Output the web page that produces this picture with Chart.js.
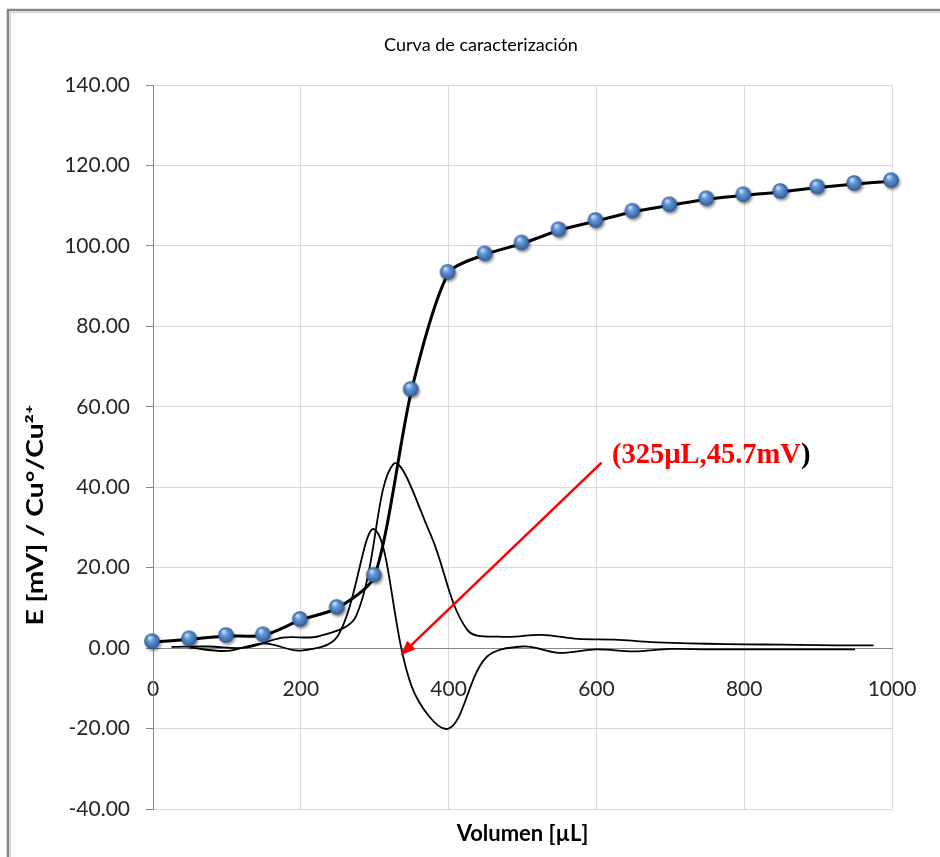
<!DOCTYPE html>
<html><head><meta charset="utf-8">
<script src="https://cdn.jsdelivr.net/npm/chart.js@4.4.0/dist/chart.umd.min.js"></script>
<style>html,body{margin:0;padding:0;background:#fff;}#wrap{width:940px;height:857px;position:relative;}</style>
</head><body><div id="wrap"><canvas id="c" width="940" height="857"></canvas></div>
<script>
// ---- data ----
const volumes = [0,50,100,150,200,250,300,350,400,450,500,550,600,650,700,750,800,850,900,950,1000];
const potential = [1.5,2.2,3.0,3.2,7.0,10.0,18.0,64.2,93.3,97.9,100.6,103.9,106.2,108.5,110.1,111.6,112.6,113.4,114.5,115.4,116.1];
const firstDerivX = [25,75,125,175,225,275,325,375,425,475,525,575,625,675,725,775,825,875,925,975];
const firstDeriv = [0.3,0.4,0.1,2.6,3.0,8.0,45.7,28.5,4.6,2.8,3.3,2.3,2.1,1.5,1.2,1.0,0.9,0.8,0.7,0.7];
const secondDerivX = [50,100,150,200,250,300,350,400,450,500,550,600,650,700,750,800,850,900,950];
const secondDeriv = [0.1,-0.7,1.2,-0.6,3.0,29.5,-9.5,-20.0,-2.5,0.4,-1.2,-0.3,-0.8,-0.2,-0.3,-0.3,-0.3,-0.3,-0.3];
const yTicks = [-40,-20,0,20,40,60,80,100,120,140];
const xTicks = [0,200,400,600,800,1000];
const chartTitle = 'Curva de caracterización';
const xTitle = 'Volumen [µL]';
const yTitle = 'E [mV] / Cu°/Cu²⁺';
const noteMain = '(325µL,45.7mV';
const noteEnd = ')';

function pts(xs, ys){ return xs.map((x,i)=>({x:x,y:ys[i]})); }

function sphere(r){
  const s = Math.ceil(r*2+8);
  const c = document.createElement('canvas'); c.width=s; c.height=s;
  const g = c.getContext('2d');
  const cx = s/2-1, cy = s/2-1;
  g.shadowColor='rgba(0,0,0,0.45)'; g.shadowBlur=3; g.shadowOffsetX=1.5; g.shadowOffsetY=2;
  const grad = g.createRadialGradient(cx-r*0.3, cy-r*0.45, r*0.1, cx, cy, r);
  grad.addColorStop(0,'#C4DAF5');
  grad.addColorStop(0.35,'#6396D6');
  grad.addColorStop(0.8,'#3E70B0');
  grad.addColorStop(1,'#2D5288');
  g.fillStyle=grad; g.beginPath(); g.arc(cx,cy,r,0,Math.PI*2); g.fill();
  return c;
}
const ball = sphere(7.8);

const decor = {
  id:'decor',
  beforeDraw(chart){
    const ctx = chart.ctx;
    ctx.save();
    ctx.fillStyle='#fff'; ctx.fillRect(0,0,chart.width,chart.height);
    ctx.strokeStyle='#858585'; ctx.lineWidth=2.5;
    ctx.beginPath(); ctx.moveTo(8,chart.height+5); ctx.lineTo(8,10); ctx.lineTo(chart.width+5,10); ctx.stroke();
    ctx.strokeStyle='#cfcfcf'; ctx.lineWidth=1;
    ctx.beginPath(); ctx.moveTo(10.5,chart.height+5); ctx.lineTo(10.5,12.5); ctx.lineTo(chart.width+5,12.5); ctx.stroke();
    ctx.restore();
  },
  afterDraw(chart){
    const ctx = chart.ctx, xs = chart.scales.x, ys = chart.scales.y, a = chart.chartArea;
    ctx.save();
    ctx.fillStyle='#000'; ctx.textAlign='center'; ctx.textBaseline='middle';
    ctx.font='18px Lato';
    ctx.fillText(chartTitle, 481, 45);
    ctx.font='bold 22px Lato';
    ctx.fillText(xTitle, (a.left+a.right)/2, 834);
    ctx.save(); ctx.translate(36, 515); ctx.rotate(-Math.PI/2);
    ctx.font='bold 22px Lato';
    const tw = ctx.measureText(yTitle).width;
    ctx.scale(221/tw, 1);
    ctx.fillText(yTitle, 0, 0); ctx.restore();
    // arrow
    const sx = xs.getPixelForValue(607), sy = ys.getPixelForValue(46.1);
    const tx = xs.getPixelForValue(335), ty = ys.getPixelForValue(-1.8);
    const ang = Math.atan2(ty-sy, tx-sx);
    const L = 15, W = 6;
    ctx.strokeStyle='#ff0000'; ctx.fillStyle='#ff0000'; ctx.lineWidth=2.5;
    ctx.beginPath(); ctx.moveTo(sx,sy); ctx.lineTo(tx-Math.cos(ang)*L*0.8, ty-Math.sin(ang)*L*0.8); ctx.stroke();
    ctx.beginPath();
    ctx.moveTo(tx,ty);
    ctx.lineTo(tx-Math.cos(ang)*L - Math.sin(ang)*W, ty-Math.sin(ang)*L + Math.cos(ang)*W);
    ctx.lineTo(tx-Math.cos(ang)*L + Math.sin(ang)*W, ty-Math.sin(ang)*L - Math.cos(ang)*W);
    ctx.closePath(); ctx.fill();
    // note
    ctx.font='bold 28.5px "Liberation Serif"'; ctx.textAlign='left'; ctx.textBaseline='alphabetic';
    const nx = xs.getPixelForValue(621), ny = ys.getPixelForValue(45.9);
    ctx.fillStyle='#ff0000'; ctx.fillText(noteMain, nx, ny);
    const w = ctx.measureText(noteMain).width;
    ctx.fillStyle='#000'; ctx.fillText(noteEnd, nx+w, ny);
    ctx.restore();
  }
};

new Chart(document.getElementById('c'), {
  type:'line',
  data:{ datasets:[
    { data: pts(volumes, potential), borderColor:'#000', borderWidth:3, tension:0.25,
      pointStyle: ball, pointRadius:7.8, pointHoverRadius:7.8, clip:false },
    { data: pts(firstDerivX, firstDeriv), borderColor:'#000', borderWidth:1.8, tension:0.35, pointRadius:0 },
    { data: pts(secondDerivX, secondDeriv), borderColor:'#000', borderWidth:1.8, tension:0.35, pointRadius:0 }
  ]},
  options:{
    responsive:false, animation:false, devicePixelRatio:1,
    layout:{ padding:{ left:0, top:85, right:48, bottom:48 } },
    plugins:{ legend:{display:false}, title:{display:false}, tooltip:{enabled:false} },
    scales:{
      x:{ type:'linear', min:0, max:1000, position:{y:0},
        afterBuildTicks(s){ s.ticks = xTicks.map(v=>({value:v})); },
        afterFit(s){ s.paddingLeft = 0; s.paddingRight = 0; },
        ticks:{ font:{family:'Lato', size:21}, color:'#262626', padding:29, callback:v=>String(v) },
        grid:{ color:'#d9d9d9', lineWidth:1, drawTicks:false },
        border:{ color:'#868686', width:1 } },
      y:{ type:'linear', min:-40, max:140,
        afterBuildTicks(s){ s.ticks = yTicks.map(v=>({value:v})); },
        afterFit(s){ s.width = 153; },
        ticks:{ font:{family:'Lato', size:21}, color:'#262626', padding:16, callback:v=>v.toFixed(2) },
        grid:{ color:'#d9d9d9', lineWidth:1, tickLength:7, tickColor:'#868686' },
        border:{ color:'#868686', width:1 } }
    }
  },
  plugins:[decor]
});
</script></body></html>
